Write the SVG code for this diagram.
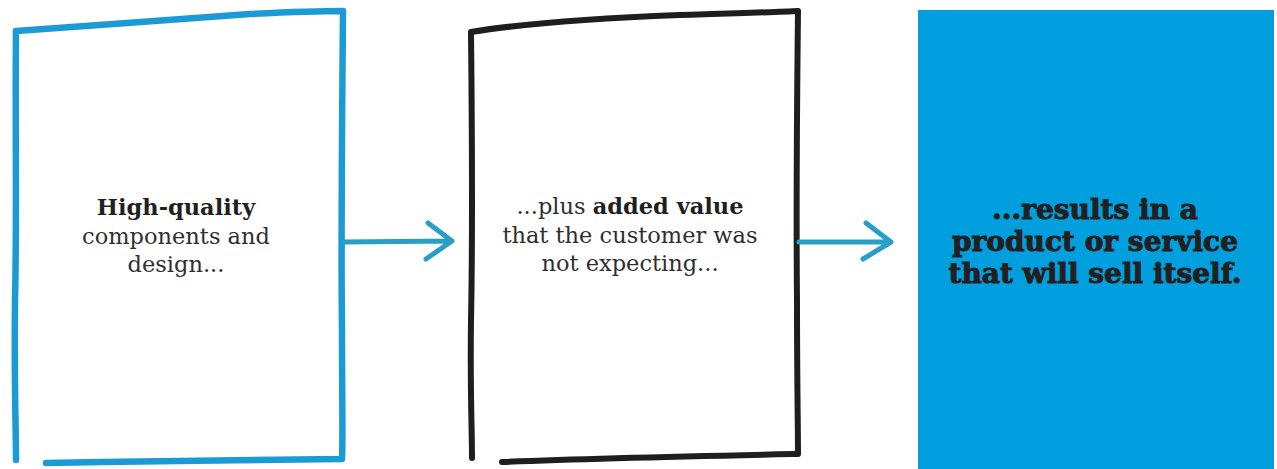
<svg xmlns="http://www.w3.org/2000/svg" width="1277" height="469" viewBox="0 0 1277 469">
<style>
.t{font-family:"DejaVu Serif","Liberation Serif",serif;font-size:22.5px;fill:#2f2f2f;text-anchor:middle}
.b{font-weight:bold;fill:#231f20}
.big{font-family:"DejaVu Serif","Liberation Serif",serif;font-weight:bold;font-size:28px;fill:#231f20;text-anchor:middle;stroke:#231f20;stroke-width:1}
.sk{fill:none;stroke-linecap:round;stroke-linejoin:round}
.arr{fill:none;stroke:#2a9fc6;stroke-width:5;stroke-linecap:round;stroke-linejoin:round}
</style>
<rect width="1277" height="469" fill="#ffffff"/>
<g id="node1">
<path class="sk" stroke="#1b9bd6" stroke-width="6.5" d="M16 31 C80 26 200 18 250 14 C290 12 320 11 343 11 C342 120 341 250 342 330 C342 400 343 440 342 459 C260 460 150 461 46 463 M16 31 C15 120 17 220 15 300 C14 380 16 430 16 460"/>
<text class="t" x="176" y="215"><tspan class="b">High-quality</tspan></text>
<text class="t" x="176" y="244">components and</text>
<text class="t" x="176" y="272">design...</text>
</g>
<g id="node2">
<path class="sk" stroke="#1e1e1e" stroke-width="6" d="M471 32 C520 24 600 18 680 15 C740 13 780 12 798 11 C797 100 796 200 797 300 C797 380 798 430 798 454 C700 456 600 458 502 462 M471 32 C472 130 473 220 471 320 C470 390 472 430 472 458"/>
<text class="t" x="630" y="214">...plus <tspan class="b">added value</tspan></text>
<text class="t" x="630" y="243">that the customer was</text>
<text class="t" x="630" y="271">not expecting...</text>
</g>
<g id="node3">
<rect x="918" y="10" width="356" height="462" fill="#029fdf"/>
<text class="big" x="1095" y="219">...results in a</text>
<text class="big" x="1095" y="251">product or service</text>
<text class="big" x="1095" y="283">that will sell itself.</text>
</g>
<g id="connectors">
<path class="arr" d="M344 242 L452 241 M428 223 L452 241 L426 259"/>
<path class="arr" d="M799 242 L891 242 M866 223 L891 242 L863 259"/>
</g>
</svg>
